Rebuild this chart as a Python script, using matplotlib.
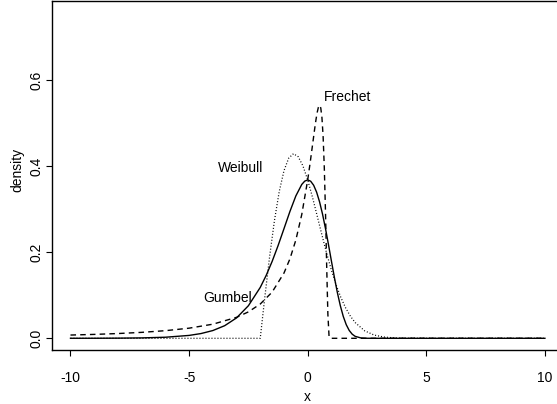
import matplotlib
matplotlib.use("Agg")
import matplotlib.pyplot as plt

plt.rcParams['font.family'] = ['Liberation Sans', 'DejaVu Sans']

# Gumbel (solid)
gumbel_x = [-10, -9, -8, -7, -6, -5, -4.5, -4, -3.5, -3, -2.5, -2, -1.75, -1.5, -1.25,
            -1, -0.75, -0.5, -0.25, -0.125, 0, 0.125, 0.25, 0.375, 0.5, 0.625, 0.75,
            0.875, 1, 1.125, 1.25, 1.375, 1.5, 1.625, 1.75, 1.875, 2, 2.25, 2.5, 3, 4, 6, 10]
gumbel_y = [0.0000454, 0.000123, 0.000335, 0.000911, 0.00247, 0.00669, 0.01099, 0.01798,
            0.0293, 0.04737, 0.07563, 0.1182, 0.1461, 0.1785, 0.2151, 0.2546, 0.2945,
            0.3307, 0.3574, 0.3651, 0.3679, 0.3649, 0.3556, 0.3396, 0.3170, 0.2885,
            0.2549, 0.2179, 0.1794, 0.1415, 0.1064, 0.0758, 0.0507, 0.0316, 0.01823,
            0.0096, 0.00457, 0.00072, 0.000063, 0.0, 0.0, 0.0, 0.0]

# Frechet (dashed)
frechet_x = [-10, -9, -8, -7, -6, -5, -4, -3, -2.5, -2, -1.5, -1, -0.75, -0.5, -0.25,
             0, 0.1, 0.2, 0.3, 0.35, 0.4, 0.45, 0.5, 0.55, 0.6, 0.65, 0.7, 0.75, 0.8,
             0.85, 0.9, 0.95, 1.0, 10]
frechet_y = [0.00755, 0.00905, 0.01105, 0.01379, 0.01769, 0.02351, 0.03275, 0.04868,
             0.06135, 0.07961, 0.10725, 0.1516, 0.1844, 0.2282, 0.2876, 0.3679, 0.4064,
             0.4477, 0.4892, 0.5082, 0.5247, 0.5365, 0.5413, 0.5353, 0.5130, 0.4688,
             0.3963, 0.2931, 0.1684, 0.0566, 0.00454, 0.0, 0.0, 0.0]

# Weibull (dotted)
weibull_x = [-10, -2, -1.9, -1.8, -1.6, -1.4, -1.2, -1.0, -0.8, -0.6, -0.4, -0.2, 0,
             0.2, 0.4, 0.6, 0.8, 1.0, 1.2, 1.4, 1.6, 1.8, 2.0, 2.4, 2.8, 3.2, 3.6, 4, 5, 10]
weibull_y = [0.0, 0.0, 0.0499, 0.0990, 0.1922, 0.2742, 0.3409, 0.3894, 0.4186, 0.4288,
             0.4218, 0.4004, 0.3679, 0.3280, 0.2843, 0.2399, 0.1972, 0.1581, 0.1237,
             0.0945, 0.0705, 0.0514, 0.0366, 0.0174, 0.00756, 0.00301, 0.0011, 0.00037,
             0.000017, 0.0]

x_ticks = [-10, -5, 0, 5, 10]
x_ticklabels = ["-10", "-5", "0", "5", "10"]
y_ticks = [0.0, 0.2, 0.4, 0.6]
y_ticklabels = ["0.0", "0.2", "0.4", "0.6"]

labels = ["Frechet", "Weibull", "Gumbel"]
label_pos = [(1.70, 0.56), (-2.83, 0.395), (-3.38, 0.0936)]

fig = plt.figure(figsize=(5.57, 4.04), dpi=100)
ax = fig.add_axes([51.5 / 557, (404 - 350.35) / 404, 512.4 / 557, 349.85 / 404])

ax.plot(gumbel_x, gumbel_y, color='black', lw=1.0, linestyle='-')
ax.plot(frechet_x, frechet_y, color='black', lw=1.0, linestyle=(0, (4, 3)))
ax.plot(weibull_x, weibull_y, color='black', lw=0.9, linestyle=(0, (0.8, 1.6)))

for lab, (tx, ty) in zip(labels, label_pos):
    ax.text(tx, ty, lab, ha='center', va='center', fontsize=10)

ax.set_xlim(-10.8, 10.8)
ax.set_ylim(-0.028, 0.7847)
ax.set_xticks(x_ticks)
ax.set_xticklabels(x_ticklabels)
ax.set_yticks(y_ticks)
ax.set_yticklabels(y_ticklabels, rotation=90, va='center')
ax.tick_params(direction='out', length=4.3, width=0.8, labelsize=10, colors='black')
ax.tick_params(axis='x', pad=10.5)
ax.tick_params(axis='y', pad=1.5)
for s in ax.spines.values():
    s.set_linewidth(1.0)
    s.set_color('black')

fig.text(17 / 557, 1 - 170 / 404, "density", rotation=90, ha='center', va='center', fontsize=10)
fig.text(307 / 557, 1 - 397 / 404, "x", ha='center', va='center', fontsize=10)

fig.savefig("out.png", dpi=100)
